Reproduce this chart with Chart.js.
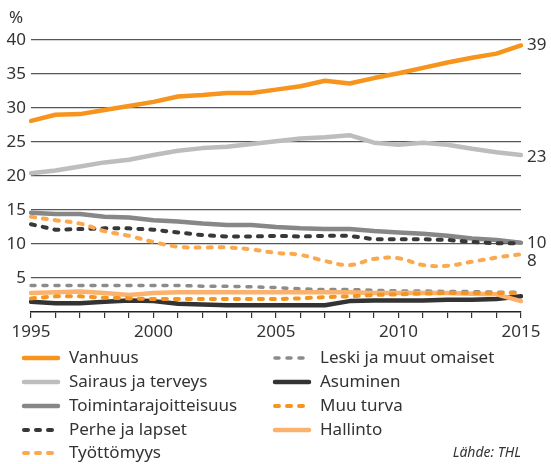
<!DOCTYPE html>
<html>
<head>
<meta charset="utf-8">
<script src="https://cdn.jsdelivr.net/npm/chart.js@4"></script>
<style>
  html, body { margin: 0; padding: 0; background: #fff; }
  #wrap { position: relative; width: 551px; height: 464px; }
</style>
</head>
<body>
<div id="wrap"><canvas id="chart" width="551" height="464"></canvas></div>
<script>
const years = ['1995','1996','1997','1998','1999','2000','2001','2002','2003','2004','2005',
               '2006','2007','2008','2009','2010','2011','2012','2013','2014','2015'];

const vanhuus    = [28.1, 29.0, 29.1, 29.7, 30.3, 30.9, 31.7, 31.9, 32.2, 32.2, 32.7, 33.2, 34.0, 33.6, 34.4, 35.1, 35.9, 36.7, 37.4, 38.0, 39.2];
const sairaus    = [20.4, 20.8, 21.4, 22.0, 22.4, 23.1, 23.7, 24.1, 24.3, 24.7, 25.1, 25.5, 25.7, 26.0, 24.9, 24.6, 24.9, 24.6, 24.0, 23.5, 23.1];
const toiminta   = [14.6, 14.4, 14.4, 14.0, 13.9, 13.5, 13.3, 13.0, 12.8, 12.8, 12.5, 12.3, 12.2, 12.2, 11.9, 11.7, 11.5, 11.2, 10.8, 10.6, 10.2];
const perhe      = [12.9, 12.1, 12.2, 12.3, 12.3, 12.1, 11.7, 11.3, 11.1, 11.1, 11.2, 11.1, 11.2, 11.2, 10.7, 10.7, 10.7, 10.6, 10.3, 10.1, 10.1];
const tyottomyys = [14.0, 13.5, 13.0, 11.9, 11.2, 10.3, 9.6, 9.5, 9.5, 9.2, 8.7, 8.4, 7.5, 6.9, 7.8, 7.9, 6.9, 6.8, 7.4, 8.0, 8.5];
const leski      = [3.9, 3.9, 3.9, 3.9, 3.9, 3.9, 3.9, 3.8, 3.8, 3.7, 3.6, 3.4, 3.3, 3.3, 3.2, 3.1, 3.1, 3.0, 3.0, 2.9, 2.9];
const asuminen   = [1.5, 1.3, 1.3, 1.5, 1.7, 1.6, 1.2, 1.1, 1.0, 1.0, 1.0, 1.0, 1.0, 1.6, 1.7, 1.7, 1.7, 1.8, 1.8, 1.9, 2.3];
const muuTurva   = [2.0, 2.3, 2.3, 2.1, 2.0, 1.9, 1.9, 1.9, 1.9, 1.9, 1.9, 2.0, 2.2, 2.3, 2.5, 2.6, 2.7, 2.8, 2.8, 2.8, 2.8];
const hallinto   = [2.8, 2.9, 3.0, 2.8, 2.5, 2.8, 2.9, 2.9, 2.9, 2.9, 2.9, 2.9, 2.9, 2.9, 2.8, 2.8, 2.8, 2.8, 2.7, 2.6, 1.6];

const seriesNames = ['Vanhuus', 'Sairaus ja terveys', 'Toimintarajoitteisuus', 'Perhe ja lapset', 'Työttömyys',
                     'Leski ja muut omaiset', 'Asuminen', 'Muu turva', 'Hallinto'];
const seriesData = [vanhuus, sairaus, toiminta, perhe, tyottomyys, leski, asuminen, muuTurva, hallinto];
// value printed at the right end of a line (null = none)
const endLabels = ['39', '23', null, '10', '8', null, null, null, null];
const yTicks = [5, 10, 15, 20, 25, 30, 35, 40];

const FONT = '"Noto Sans", "Open Sans", sans-serif';
const TEXT = '#333333';

const styles = [
  { color: '#f7941d', width: 4.5, dash: [],     order: 9 },
  { color: '#bdbdbd', width: 4.5, dash: [],     order: 8 },
  { color: '#878787', width: 4.5, dash: [],     order: 7 },
  { color: '#383838', width: 4,   dash: [4, 8], order: 2, },
  { color: '#fba94f', width: 4,   dash: [4, 8], order: 1, tension: 0.4 },
  { color: '#8c8c8c', width: 3.5, dash: [4, 8], order: 5 },
  { color: '#333333', width: 4.5, dash: [],     order: 6 },
  { color: '#f7941d', width: 4,   dash: [4, 8], order: 3 },
  { color: '#fbb26e', width: 4.5, dash: [],     order: 4 }
];

const datasets = seriesNames.map((name, i) => ({
  label: name,
  data: seriesData[i],
  borderColor: styles[i].color,
  borderWidth: styles[i].width,
  borderDash: styles[i].dash,
  borderCapStyle: 'round',
  borderJoinStyle: 'round',
  tension: styles[i].tension || 0,
  pointRadius: 0,
  fill: false,
  order: styles[i].order
}));

// end labels + "%" + legend + source, drawn on the canvas
const extras = {
  id: 'extras',
  afterDraw(chart) {
    const ctx = chart.ctx;
    const y = chart.scales.y;
    const area = chart.chartArea;
    ctx.save();
    ctx.fillStyle = TEXT;
    ctx.font = '17px ' + FONT;
    ctx.textBaseline = 'middle';

    ctx.textAlign = 'left';
    ctx.fillText('%', 9, 18);

    const nudge = { '8': 7, '23': 2 };
    endLabels.forEach((lab, i) => {
      if (!lab) return;
      const v = seriesData[i][seriesData[i].length - 1];
      ctx.fillText(lab, area.right + 6, y.getPixelForValue(v) + (nudge[lab] || 0));
    });

    // legend in two columns
    const cols = [[0, 1, 2, 3, 4], [5, 6, 7, 8]];
    const colX = [22, 273];
    const rowY = [358, 382, 406, 430, 453];
    cols.forEach((col, c) => {
      col.forEach((idx, r) => {
        const s = styles[idx];
        const yy = rowY[r];
        ctx.save();
        ctx.strokeStyle = s.color;
        ctx.lineWidth = s.width;
        ctx.lineCap = 'round';
        ctx.setLineDash(s.dash);
        ctx.beginPath();
        ctx.moveTo(colX[c] + 2, yy);
        ctx.lineTo(colX[c] + 36, yy);
        ctx.stroke();
        ctx.restore();
        ctx.fillStyle = TEXT;
        ctx.fillText(seriesNames[idx], colX[c] + 47, yy);
      });
    });

    ctx.font = 'italic 14px ' + FONT;
    ctx.textAlign = 'right';
    ctx.fillText('Lähde: THL', 521, 453);
    ctx.restore();
  }
};

new Chart(document.getElementById('chart'), {
  type: 'line',
  data: { labels: years, datasets: datasets },
  options: {
    responsive: false,
    animation: false,
    layout: { padding: { top: 40, right: 30, bottom: 122, left: 0 } },
    plugins: { legend: { display: false }, tooltip: { enabled: false } },
    scales: {
      x: {
        afterFit(scale) { scale.height = 30; },
        grid: { display: true, drawOnChartArea: false, drawTicks: true, tickLength: 6, color: '#333', lineWidth: 1.2 },
        border: { display: true, color: '#222', width: 1.5 },
        ticks: {
          autoSkip: false,
          maxRotation: 0,
          padding: 4,
          color: TEXT,
          font: { family: FONT, size: 17 },
          callback(val, i) { const yr = years[i]; return Number(yr) % 5 === 0 ? yr : ''; }
        }
      },
      y: {
        min: 0,
        max: 40,
        afterFit(scale) { scale.width = 31; },
        afterBuildTicks(scale) { scale.ticks = [0].concat(yTicks).map(v => ({ value: v })); },
        grid: {
          drawTicks: false,
          color: ctx => ctx.tick && ctx.tick.value === 0 ? 'rgba(0,0,0,0)' : '#555',
          lineWidth: 1.2
        },
        border: { display: false },
        ticks: {
          padding: 5,
          color: TEXT,
          font: { family: FONT, size: 17 },
          callback(v) { return v === 0 ? '' : String(v); }
        }
      }
    }
  },
  plugins: [extras]
});
</script>
</body>
</html>
